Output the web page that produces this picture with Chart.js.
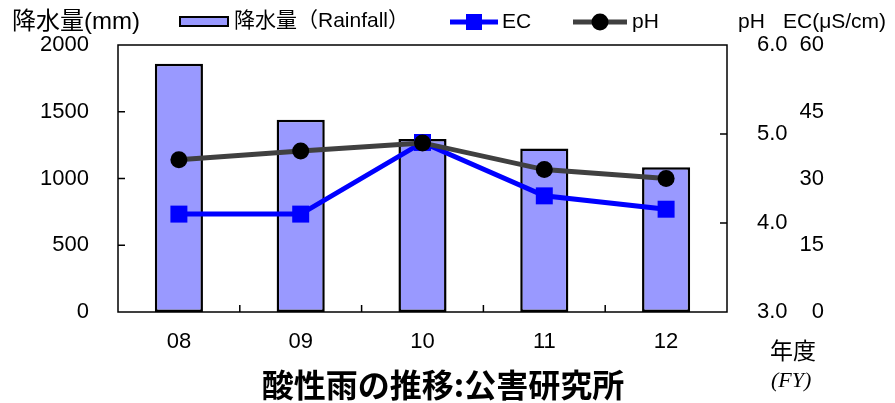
<!DOCTYPE html>
<html>
<head>
<meta charset="utf-8">
<script src="https://cdn.jsdelivr.net/npm/chart.js@4"></script>
<style>
body { margin: 0; background: #fff; }
</style>
</head>
<body>
<canvas id="graph" width="895" height="403"></canvas>
<script>
// data
const years = ['08', '09', '10', '11', '12'];
const rainfall = [1860, 1440, 1295, 1225, 1085];   // mm
const ecValues = [22.0, 22.0, 38.1, 26.1, 23.1];   // uS/cm
const phValues = [4.71, 4.81, 4.90, 4.60, 4.50];

const FONT = "'Liberation Sans', 'Noto Sans CJK JP', sans-serif";
const BAR_COLOR = '#9999ff';
const EC_COLOR = '#0000ff';
const PH_COLOR = '#404040';

// box, inward tick marks, titles and legend
const extras = {
    id: 'extras',
    beforeDatasetsDraw(chart) {
        const ctx = chart.ctx, a = chart.chartArea;
        const sx = chart.scales.x, sy = chart.scales.y, sp = chart.scales.y1;
        ctx.save();
        ctx.strokeStyle = '#000';
        ctx.lineWidth = 1.5;
        ctx.strokeRect(a.left, a.top, a.right - a.left, a.bottom - a.top);
        ctx.beginPath();
        sy.ticks.slice(1, -1).forEach(t => {
            let y = sy.getPixelForValue(t.value);
            ctx.moveTo(a.left, y); ctx.lineTo(a.left + 7, y);
        });
        sp.ticks.slice(1, -1).forEach(t => {
            let y = sp.getPixelForValue(t.value);
            ctx.moveTo(a.right, y); ctx.lineTo(a.right - 7, y);
        });
        for (let i = 0; i < years.length - 1; i++) {
            let x = (sx.getPixelForValue(i) + sx.getPixelForValue(i + 1)) / 2;
            ctx.moveTo(x, a.bottom); ctx.lineTo(x, a.bottom - 7);
        }
        ctx.stroke();
        ctx.restore();
    },
    afterDraw(chart) {
        const ctx = chart.ctx;
        ctx.save();
        ctx.fillStyle = '#000';
        ctx.textBaseline = 'middle';
        ctx.textAlign = 'left';

        // axis titles
        ctx.font = '24px ' + FONT;
        ctx.fillText('降水量(mm)', 12, 22);
        ctx.font = '21px ' + FONT;
        ctx.fillText('pH', 738, 22);
        ctx.fillText('EC(μS/cm)', 783, 22);
        ctx.font = '23px ' + FONT;
        ctx.fillText('年度', 770, 353);
        ctx.font = "italic 22px 'Liberation Serif', serif";
        ctx.fillText('(FY)', 771, 381);

        // main title
        ctx.textAlign = 'center';
        ctx.font = "bold 32px 'Noto Sans CJK JP', sans-serif";
        ctx.fillText('酸性雨の推移:公害研究所', 443, 385);

        // legend
        const ds = chart.data.datasets;
        ctx.textAlign = 'left';
        ctx.font = '21px ' + FONT;
        ctx.fillStyle = ds[0].backgroundColor;
        ctx.fillRect(180, 17, 48, 9);
        ctx.strokeStyle = '#000';
        ctx.lineWidth = 2;
        ctx.strokeRect(180, 17, 48, 9);
        ctx.fillStyle = '#000';
        ctx.fillText(ds[0].label, 234, 21);

        ctx.strokeStyle = ds[1].borderColor;
        ctx.lineWidth = 5;
        ctx.beginPath(); ctx.moveTo(450, 22); ctx.lineTo(498, 22); ctx.stroke();
        ctx.fillStyle = ds[1].borderColor;
        ctx.fillRect(466, 14, 16, 16);
        ctx.fillStyle = '#000';
        ctx.fillText(ds[1].label, 502, 22);

        ctx.strokeStyle = ds[2].borderColor;
        ctx.beginPath(); ctx.moveTo(573, 22); ctx.lineTo(627, 22); ctx.stroke();
        ctx.fillStyle = '#000';
        ctx.beginPath(); ctx.arc(600, 22, 8.5, 0, Math.PI * 2); ctx.fill();
        ctx.fillText(ds[2].label, 632, 22);
        ctx.restore();
    }
};

const tickFont = { family: FONT, size: 22 };

new Chart(document.getElementById('graph').getContext('2d'), {
    data: {
        labels: years,
        datasets: [
            {
                type: 'bar',
                label: '降水量（Rainfall）',
                data: rainfall,
                yAxisID: 'y',
                backgroundColor: BAR_COLOR,
                borderColor: '#000',
                borderWidth: 2.5,
                borderSkipped: false,
                barPercentage: 0.395,
                categoryPercentage: 1,
                order: 3
            },
            {
                type: 'line',
                label: 'EC',
                data: ecValues,
                yAxisID: 'y2',
                borderColor: EC_COLOR,
                backgroundColor: EC_COLOR,
                borderWidth: 5,
                pointStyle: 'rect',
                pointRadius: 12,
                pointBorderWidth: 0,
                order: 2
            },
            {
                type: 'line',
                label: 'pH',
                data: phValues,
                yAxisID: 'y1',
                borderColor: PH_COLOR,
                backgroundColor: '#000',
                borderWidth: 5,
                pointStyle: 'circle',
                pointRadius: 8.5,
                pointBorderWidth: 0,
                order: 1
            }
        ]
    },
    options: {
        responsive: false,
        animation: false,
        layout: { padding: { top: 45, left: 0, right: 71, bottom: 0 } },
        plugins: {
            legend: { display: false },
            tooltip: { enabled: false }
        },
        scales: {
            x: {
                grid: { display: false },
                border: { display: false },
                ticks: { color: '#000', font: tickFont, padding: 9, maxRotation: 0 },
                afterFit: s => { s.height = 91; }
            },
            y: {
                position: 'left',
                min: 0, max: 2000,
                grid: { display: false },
                border: { display: false },
                ticks: { stepSize: 500, color: '#000', font: tickFont, padding: 21,
                    callback: v => String(v) },
                afterFit: s => { s.width = 118; }
            },
            y1: {
                position: 'right',
                weight: 1,
                min: 3, max: 6,
                grid: { display: false },
                border: { display: false },
                ticks: { stepSize: 1, color: '#000', font: tickFont, padding: 22,
                    callback: v => v.toFixed(1) },
                afterFit: s => { s.width = 65; }
            },
            y2: {
                position: 'right',
                weight: 2,
                min: 0, max: 60,
                grid: { display: false },
                border: { display: false },
                ticks: { stepSize: 15, color: '#000', font: tickFont, padding: 7, crossAlign: 'far' },
                afterFit: s => { s.width = 32; }
            }
        }
    },
    plugins: [extras]
});
</script>
</body>
</html>
